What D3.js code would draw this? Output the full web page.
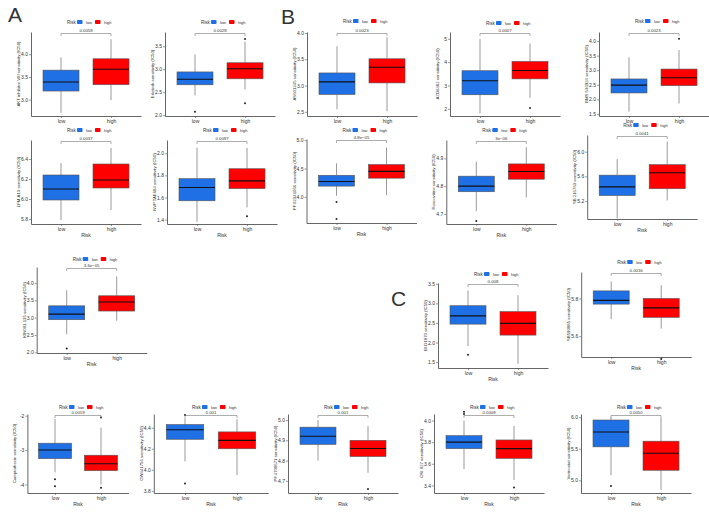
<!DOCTYPE html>
<html>
<head>
<meta charset="utf-8">
<script src="https://cdn.jsdelivr.net/npm/d3@7"></script>
<style>
body { margin: 0; background: #fff; }
text { font-family: "Liberation Sans", Arial, sans-serif; fill: #333; }
</style>
</head>
<body>
<svg id="fig" width="709" height="518"></svg>
<script>
// drug names (y labels) and p values of low vs high risk
var drugs = ["AKT inhibitor VIII", "Erlotinib", "AS601245", "AZD6482", "BMS.536924",
  "LFM.A13", "NVP.TAE684", "PF.02341066", "Roscovitine", "SB.216763",
  "KIN001.135", "BI.D1870", "SB590885",
  "Camptothecin", "GW441756", "PF.4708671", "OSI.027", "Vorinostat"];
var pvals = ["0.0058", "0.0028", "0.0023", "0.0007", "0.0023",
  "0.0037", "0.0097", "4.8e\u221205", "3e\u221206", "0.0041",
  "3.6e\u221205", "0.008", "0.0016",
  "0.0019", "0.001", "0.001", "0.0008", "0.0050"];

// box stats [min, q1, median, q3, max]
var lowBox = [
  [2.71, 3.19, 3.39, 3.65, 3.93], [2.43, 2.66, 2.78, 2.94, 3.32], [2.55, 2.83, 3.07, 3.24, 3.75],
  [1.8, 2.6, 3.2, 3.63, 4.99], [1.58, 2.22, 2.49, 2.70, 3.44],
  [5.79, 5.99, 6.10, 6.24, 6.36], [1.38, 1.57, 1.69, 1.77, 2.05], [4.02, 4.19, 4.27, 4.38, 4.59],
  [4.71, 4.78, 4.80, 4.836, 4.888], [4.92, 5.29, 5.43, 5.62, 5.88],
  [2.52, 2.94, 3.10, 3.34, 3.79], [1.91, 2.47, 2.68, 2.94, 3.33], [5.69, 5.77, 5.79, 5.84, 5.89],
  [-3.65, -3.25, -3.0, -2.8, -2.1], [4.08, 4.29, 4.38, 4.43, 4.49], [4.80, 4.88, 4.92, 4.965, 5.0],
  [3.55, 3.74, 3.80, 3.86, 4.0], [5.08, 5.53, 5.765, 5.955, 6.0]
];
var highBox = [
  [2.99, 3.33, 3.67, 3.90, 4.33], [2.56, 2.79, 3.01, 3.14, 3.60], [2.51, 3.05, 3.35, 3.51, 3.92],
  [2.47, 3.28, 3.64, 4.03, 4.8], [1.86, 2.47, 2.74, 3.04, 3.69],
  [5.89, 6.11, 6.19, 6.35, 6.51], [1.51, 1.68, 1.75, 1.86, 2.05], [4.03, 4.33, 4.45, 4.57, 4.87],
  [4.76, 4.825, 4.853, 4.88, 4.94], [5.21, 5.40, 5.66, 5.79, 6.16],
  [2.91, 3.19, 3.45, 3.63, 4.19], [1.46, 2.19, 2.49, 2.79, 3.21], [5.64, 5.70, 5.75, 5.80, 5.87],
  [-4.0, -3.6, -3.4, -3.15, -2.35], [3.95, 4.2, 4.28, 4.36, 4.48], [4.74, 4.82, 4.86, 4.90, 4.97],
  [3.45, 3.65, 3.74, 3.82, 3.95], [4.85, 5.16, 5.43, 5.62, 5.99]
];
var lowOut = [[], [2.07], [], [], [], [], [], [3.91, 3.61], [4.675], [], [2.11], [1.69], [],
  [-3.85, -4.05], [4.52, 3.87], [], [4.08, 4.06], [4.91]];
var highOut = [[], [2.26, 3.66], [], [2.03], [4.08], [], [1.43], [], [], [], [], [], [5.48],
  [-2.05, -4.1], [], [4.66], [3.38], []];

// y tick labels and axis limits
var yTicks = [
  ["3.0", "3.5", "4.0"], ["2.0", "2.5", "3.0", "3.5"], ["2.5", "3.0", "3.5", "4.0"],
  ["2", "3", "4", "5"], ["1.5", "2.0", "2.5", "3.0", "3.5", "4.0"],
  ["5.8", "6.0", "6.2", "6.4"], ["1.4", "1.6", "1.8", "2.0"], ["4.0", "4.5", "5.0"],
  ["4.7", "4.8", "4.9"], ["5.2", "5.6", "6.0"],
  ["2.0", "2.5", "3.0", "3.5", "4.0"], ["1.5", "2.0", "2.5", "3.0", "3.5"], ["5.6", "5.8"],
  ["-4", "-3", "-2"], ["3.8", "4.0", "4.2", "4.4"], ["4.7", "4.8", "4.9", "5.0"],
  ["3.4", "3.6", "3.8", "4.0"], ["5.0", "5.5", "6.0"]
];
var yLims = [
  [2.64, 4.49], [1.98, 3.81], [2.42, 4.02], [1.69, 5.29], [1.43, 4.31],
  [5.75, 6.59], [1.36, 2.12], [3.54, 5.02], [4.664, 4.966], [4.91, 6.27],
  [1.98, 4.46], [1.35, 3.52], [5.49, 5.94],
  [-4.25, -1.95], [3.78, 4.53], [4.64, 5.03], [3.33, 4.06], [4.8, 6.05]
];
var groups = ["low", "high"];
var colors = {low: "#1f6fe5", high: "#ff0000"};

// panel placement: [low box centre x, box spacing, plot top, plot bottom, legend y, show x title]
var layout = [
  [61, 50, 32, 116, 22, 0], [195, 50, 32, 116, 22, 0], [337, 50, 32, 116, 21, 0],
  [480, 50, 32, 116, 23, 0], [629, 50, 32, 116, 21, 0],
  [61, 50, 140, 224, 130, 1], [197, 50, 140, 224, 130, 1], [336.5, 50, 139, 223, 130, 1],
  [476.3, 50, 140, 224, 130, 1], [617.2, 50, 135, 219, 125, 1],
  [66.7, 50, 267, 353, 259, 1], [468, 50, 283, 368, 274, 1], [611.2, 50, 272, 357, 262, 1],
  [55, 46, 414, 493, 407, 1], [185, 52, 414, 493, 407, 1], [318, 50, 414, 493, 407, 1],
  [464, 50, 414, 493, 407, 1], [611, 50, 414, 493, 407, 1]
];

var svg = d3.select("#fig");
var stroke = "#555";

function panel(i) {
  var L = layout[i], d = L[1];
  var left = L[0] - 0.6 * d, right = left + 2.2 * d;
  var x = d3.scaleLinear().domain([0.4, 2.6]).range([left, right]);
  var y = d3.scaleLinear().domain(yLims[i]).range([L[3], L[2]]);
  var bw = 0.72 * d;
  var g = svg.append("g");

  // axes
  var ya = d3.axisLeft(y).tickValues(yTicks[i].map(Number))
    .tickFormat(function(v, k) { return yTicks[i][k]; }).tickSize(2).tickSizeOuter(0);
  var gy = g.append("g").attr("transform", "translate(" + left + ",0)").call(ya);
  var xa = d3.axisBottom(x).tickValues([1, 2])
    .tickFormat(function(v) { return groups[v - 1]; }).tickSize(2).tickSizeOuter(0);
  var gx = g.append("g").attr("transform", "translate(0," + L[3] + ")").call(xa);
  [gx, gy].forEach(function(a) {
    a.select(".domain").attr("stroke", stroke).attr("stroke-width", 0.9);
    a.selectAll(".tick line").attr("stroke", stroke).attr("stroke-width", 0.6);
    a.selectAll("text").attr("font-size", 5).attr("fill", "#333")
      .style("font-family", "Liberation Sans, Arial, sans-serif");
  });
  gy.selectAll("text").attr("x", -3);
  gx.selectAll("text").attr("y", 3);

  // y label
  g.append("text").attr("transform", "translate(" + (left - 11) + "," + ((L[2] + L[3]) / 2) + ") rotate(-90)")
    .attr("text-anchor", "middle").attr("font-size", 4.3).text(drugs[i] + " sensitivity (IC50)");
  if (L[5]) {
    g.append("text").attr("x", (left + right) / 2).attr("y", L[3] + 13)
      .attr("text-anchor", "middle").attr("font-size", 5).text("Risk");
  }

  // boxes
  var stats = [lowBox[i], highBox[i]], outs = [lowOut[i], highOut[i]];
  stats.forEach(function(s, k) {
    var cx = x(k + 1);
    g.append("line").attr("x1", cx).attr("x2", cx).attr("y1", y(s[0])).attr("y2", y(s[1]))
      .attr("stroke", stroke).attr("stroke-width", 0.6);
    g.append("line").attr("x1", cx).attr("x2", cx).attr("y1", y(s[3])).attr("y2", y(s[4]))
      .attr("stroke", stroke).attr("stroke-width", 0.6);
    g.append("rect").attr("x", cx - bw / 2).attr("width", bw)
      .attr("y", y(s[3])).attr("height", y(s[1]) - y(s[3]))
      .attr("fill", colors[groups[k]]).attr("stroke", stroke).attr("stroke-width", 0.6);
    g.append("line").attr("x1", cx - bw / 2).attr("x2", cx + bw / 2)
      .attr("y1", y(s[2])).attr("y2", y(s[2])).attr("stroke", "#111").attr("stroke-width", 1.1);
    g.selectAll(null).data(outs[k]).enter().append("circle")
      .attr("cx", cx).attr("cy", function(v) { return y(v); }).attr("r", 1).attr("fill", "#222");
  });

  // comparison bracket
  var by = L[2] + 1.5;
  g.append("path").attr("d", "M" + x(1) + "," + (by + 2.5) + "V" + by + "H" + x(2) + "V" + (by + 2.5))
    .attr("fill", "none").attr("stroke", "#777").attr("stroke-width", 0.6);
  g.append("text").attr("x", (x(1) + x(2)) / 2).attr("y", by - 1.2)
    .attr("text-anchor", "middle").attr("font-size", 4.3).text(pvals[i]);

  // legend
  var lg = g.append("g").attr("transform", "translate(" + ((left + right) / 2 - 19) + "," + L[4] + ")");
  lg.append("text").attr("x", 0).attr("y", 1.7).attr("font-size", 4.5).text("Risk");
  lg.append("rect").attr("x", 10).attr("y", -2).attr("width", 5.5).attr("height", 4).attr("rx", 0.8)
    .attr("fill", colors.low);
  lg.append("text").attr("x", 19).attr("y", 1.7).attr("font-size", 4).text("low");
  lg.append("rect").attr("x", 28).attr("y", -2).attr("width", 5.5).attr("height", 4).attr("rx", 0.8)
    .attr("fill", colors.high);
  lg.append("text").attr("x", 37).attr("y", 1.7).attr("font-size", 4).text("high");
}

d3.range(drugs.length).forEach(panel);

// panel letters
var letters = [["A", 8, 22], ["B", 281, 24], ["C", 391, 306]];
svg.selectAll(".lab").data(letters).enter().append("text")
  .attr("x", function(d) { return d[1]; }).attr("y", function(d) { return d[2]; })
  .attr("font-size", 21).attr("fill", "#111").text(function(d) { return d[0]; });
</script>
</body>
</html>
